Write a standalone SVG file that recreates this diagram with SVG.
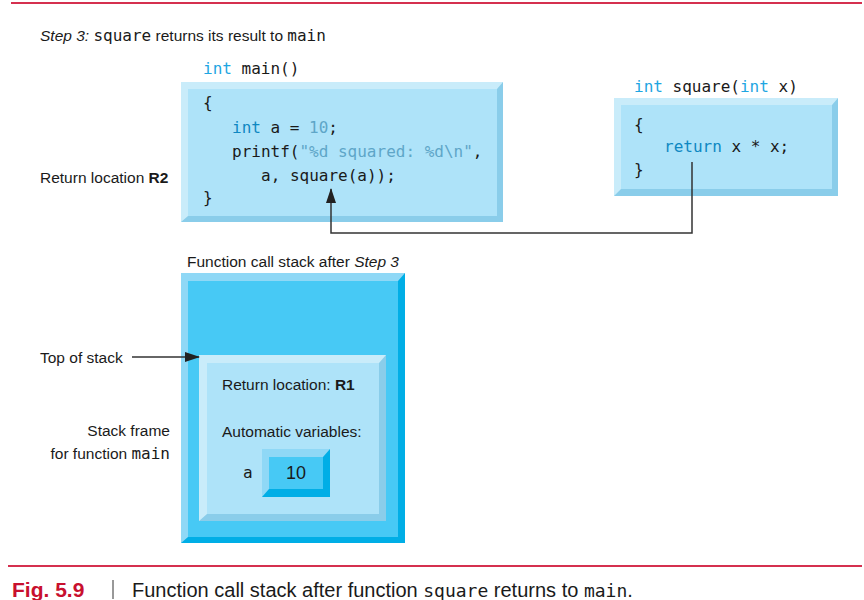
<svg xmlns="http://www.w3.org/2000/svg" width="864" height="600" viewBox="0 0 864 600">
<style>
  .sans { font-family: "Liberation Sans", Arial, sans-serif; font-size: 15.5px; fill: #1a1a1a; }
  .mono { font-family: "DejaVu Sans Mono", "Liberation Mono", monospace; font-size: 16px; fill: #1a1a1a; }
  .kw { fill: #0e88c2; }
  .kwh { fill: #1ea6e2; }
  .lit { fill: #5ea6c8; }
  .lf { fill: #aee3f9; }
  .ll { fill: #c9ecfa; }
  .ld { fill: #8acdea; }
  .df { fill: #47c9f5; }
  .dl { fill: #8fd8f6; }
  .dd { fill: #00aee6; }
  .conn { fill: none; stroke: #333; stroke-width: 1.5; }
  .red { stroke: #d5304f; stroke-width: 2; }
</style>
<defs>
  <marker id="ah2" markerWidth="15" markerHeight="10" refX="14" refY="5" orient="auto" markerUnits="userSpaceOnUse" viewBox="0 0 15 10">
    <path d="M0,0 L15,5 L0,10 Z" fill="#222"/>
  </marker>
</defs>
<rect width="864" height="600" fill="#fff"/>
<line class="red" x1="11" y1="3" x2="862" y2="3"/>

<text class="sans" x="40" y="41"><tspan font-style="italic">Step 3:</tspan> <tspan class="mono">square</tspan> returns its result to <tspan class="mono">main</tspan></text>

<g id="main-func">
  <text class="mono" x="203" y="74"><tspan class="kwh">int</tspan> main()</text>
  <rect class="ld" x="181" y="82" width="322" height="140"/>
  <polygon class="ll" points="181,82 503,82 497,89 188,89 188,216 181,222"/>
  <rect class="lf" x="188" y="89" width="309" height="127"/>
  <text class="mono" x="203" y="108">{</text>
  <text class="mono" x="232" y="133"><tspan class="kw">int</tspan> a = <tspan class="lit">10</tspan>;</text>
  <text class="mono" x="232" y="157">printf(<tspan class="lit">"%d squared: %d\n"</tspan>,</text>
  <text class="mono" x="261" y="181">a, square(a));</text>
  <text class="mono" x="203" y="203">}</text>
</g>

<g id="square-func">
  <text class="mono" x="634" y="92"><tspan class="kwh">int</tspan> square(<tspan class="kwh">int</tspan> x)</text>
  <rect class="ld" x="614" y="98" width="224" height="98"/>
  <polygon class="ll" points="614,98 838,98 832,105 621,105 621,189 614,196"/>
  <rect class="lf" x="621" y="105" width="211" height="84"/>
  <text class="mono" x="634" y="130">{</text>
  <text class="mono" x="664" y="152"><tspan class="kw">return</tspan> x * x;</text>
  <text class="mono" x="634" y="175">}</text>
</g>

<g id="return-label">
  <text class="sans" x="40" y="183">Return location <tspan font-weight="bold">R2</tspan></text>
</g>

<g id="stack">
  <text class="sans" x="187" y="267">Function call stack after <tspan font-style="italic">Step 3</tspan></text>
  <rect class="dd" x="181" y="273" width="224" height="270"/>
  <polygon class="dl" points="181,273 405,273 398,281 188,281 188,537 181,543"/>
  <rect class="df" x="188" y="281" width="210" height="256"/>
</g>

<g id="stack-frame">
  <rect class="ld" x="199" y="355" width="187" height="166"/>
  <polygon class="ll" points="199,355 386,355 379,363 207,363 207,514 199,521"/>
  <rect class="lf" x="207" y="363" width="172" height="151"/>
  <text class="sans" x="222" y="390">Return location: <tspan font-weight="bold">R1</tspan></text>
  <text class="sans" x="222" y="437">Automatic variables:</text>
  <text class="mono" x="243" y="478">a</text>
</g>

<g id="var-a">
  <rect class="dd" x="262" y="449" width="68" height="48"/>
  <polygon class="dl" points="262,449 330,449 323,457 269,457 269,489 262,497"/>
  <rect class="df" x="269" y="457" width="54" height="32"/>
  <text class="sans" x="296" y="479" text-anchor="middle" style="font-size:18px">10</text>
</g>

<g id="labels">
  <text class="sans" x="40" y="363">Top of stack</text>
  <text class="sans" x="170" y="436" text-anchor="end">Stack frame</text>
  <text class="sans" x="170" y="459" text-anchor="end">for function <tspan class="mono">main</tspan></text>
</g>

<g id="connectors">
  <path class="conn" d="M692,162 V233 H331 V189" marker-end="url(#ah2)"/>
  <path class="conn" d="M132,357 H199" marker-end="url(#ah2)"/>
</g>

<line class="red" x1="8" y1="566" x2="862" y2="566"/>
<g id="caption">
  <text x="12" y="597" font-family="Liberation Sans, Arial, sans-serif" font-size="21" font-weight="bold" fill="#c8102e">Fig. 5.9</text>
  <line x1="113" y1="580" x2="113" y2="599" stroke="#333" stroke-width="1"/>
  <text x="132" y="597" font-family="Liberation Sans, Arial, sans-serif" font-size="20" fill="#1a1a1a">Function call stack after function <tspan font-family="DejaVu Sans Mono, monospace" font-size="18">square</tspan> returns to <tspan font-family="DejaVu Sans Mono, monospace" font-size="18">main</tspan>.</text>
</g>
</svg>
